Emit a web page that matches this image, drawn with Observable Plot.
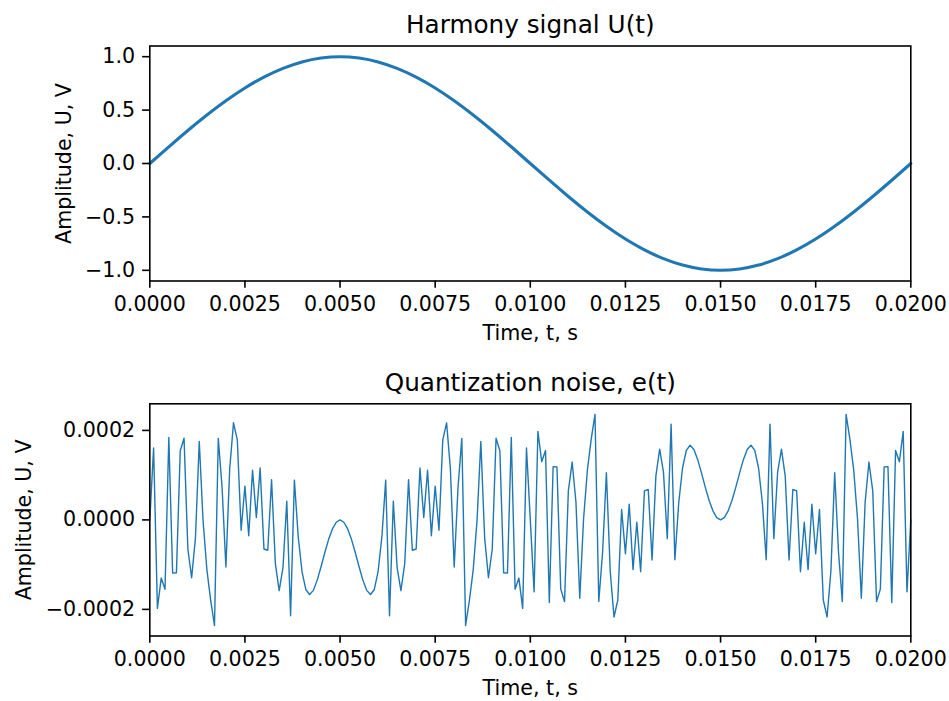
<!DOCTYPE html>
<html><head><meta charset="utf-8">
<script src="https://cdn.jsdelivr.net/npm/d3@7"></script>
<script src="https://cdn.jsdelivr.net/npm/@observablehq/plot@0.6"></script>
<style>
html,body{margin:0;padding:0;background:#fff;}
#chart{position:relative;width:949px;height:701px;overflow:hidden;background:#fff;}
#chart svg{position:absolute;left:0;overflow:visible;}
</style></head><body><div id="chart"></div>
<script>
// ---- data ----
const signalStep = 0.0005; // s between signal samples
const signalU = [
  0, 0.156434, 0.309017, 0.453990, 0.587785, 0.707107, 0.809017, 0.891007, 0.951057, 0.987688,
  1.0, 0.987688, 0.951057, 0.891007, 0.809017, 0.707107, 0.587785, 0.453990, 0.309017, 0.156434,
  0, -0.156434, -0.309017, -0.453990, -0.587785, -0.707107, -0.809017, -0.891007, -0.951057, -0.987688,
  -1.0, -0.987688, -0.951057, -0.891007, -0.809017, -0.707107, -0.587785, -0.453990, -0.309017, -0.156434,
  0
];
const noiseStep = 0.0001; // s between noise samples
const noiseE = [
  0, 0.0001608, -0.0001978, -0.0001300, -0.0001550, 0.0001845, -0.0001187, -0.0001185, 0.0001547, 0.0001825,
  -0.0000650, -0.0001293, -0.0000395, 0.0001752, -0.0000020, -0.0001111, -0.0001799, -0.0002359, 0.0001823, 0.0000717,
  -0.0001054, 0.0001141, 0.0002170, 0.0001790, -0.0000232, 0.0000755, -0.0000353, 0.0001111, 0.0000054, 0.0001160,
  -0.0000650, -0.0000679, 0.0000896, -0.0000978, -0.0001582, -0.0001068, 0.0000419, -0.0002141, 0.0000890, -0.0000372,
  -0.0001154, -0.0001555, -0.0001668, -0.0001575, -0.0001346, -0.0001046, -0.0000728, -0.0000435, -0.0000202, -0.0000052,
  0,
  -0.0000052, -0.0000202, -0.0000435, -0.0000728, -0.0001046, -0.0001346, -0.0001575, -0.0001668, -0.0001555, -0.0001154,
  -0.0000372, 0.0000890, -0.0002141, 0.0000419, -0.0001068, -0.0001582, -0.0000978, 0.0000896, -0.0000679, -0.0000650,
  0.0001160, 0.0000054, 0.0001111, -0.0000353, 0.0000755, -0.0000232, 0.0001790, 0.0002170, 0.0001141, -0.0001054,
  0.0000717, 0.0001823, -0.0002359, -0.0001799, -0.0001111, -0.0000020, 0.0001752, -0.0000395, -0.0001293, -0.0000650,
  0.0001825, 0.0001547, -0.0001185, -0.0001187, 0.0001845, -0.0001550, -0.0001300, -0.0001978, 0.0001608, 0,
  -0.0001608, 0.0001978, 0.0001300, 0.0001550, -0.0001845, 0.0001187, 0.0001185, -0.0001547, -0.0001825, 0.0000650,
  0.0001293, 0.0000395, -0.0001752, 0.0000020, 0.0001111, 0.0001799, 0.0002359, -0.0001823, -0.0000717, 0.0001054,
  -0.0001141, -0.0002170, -0.0001790, 0.0000232, -0.0000755, 0.0000353, -0.0001111, -0.0000054, -0.0001160, 0.0000650,
  0.0000679, -0.0000896, 0.0000978, 0.0001582, 0.0001068, -0.0000419, 0.0002141, -0.0000890, 0.0000372, 0.0001154,
  0.0001555, 0.0001668, 0.0001575, 0.0001346, 0.0001046, 0.0000728, 0.0000435, 0.0000202, 0.0000052, 0,
  0.0000052, 0.0000202, 0.0000435, 0.0000728, 0.0001046, 0.0001346, 0.0001575, 0.0001668, 0.0001555, 0.0001154,
  0.0000372, -0.0000890, 0.0002141, -0.0000419, 0.0001068, 0.0001582, 0.0000978, -0.0000896, 0.0000679, 0.0000650,
  -0.0001160, -0.0000054, -0.0001111, 0.0000353, -0.0000755, 0.0000232, -0.0001790, -0.0002170, -0.0001141, 0.0001054,
  -0.0000717, -0.0001823, 0.0002359, 0.0001799, 0.0001111, 0.0000020, -0.0001752, 0.0000395, 0.0001293, 0.0000650,
  -0.0001825, -0.0001547, 0.0001185, 0.0001187, -0.0001845, 0.0001550, 0.0001300, 0.0001978, -0.0001608, 0
];
const xTicks = [0, 0.0025, 0.005, 0.0075, 0.01, 0.0125, 0.015, 0.0175, 0.02];
const topYTicks = [-1, -0.5, 0, 0.5, 1];
const bottomYTicks = [-0.0002, 0, 0.0002];
const titles = ["Harmony signal U(t)", "Quantization noise, e(t)"];
const timeLabel = "Time, t, s";
const ampLabel = "Amplitude, U, V";

// ---- rendering ----
const FONT = "'DejaVu Sans', sans-serif";
const FS = 20.6, TFS = 24.7;
const BLUE = "#1f77b4";
const ML = 149.3, MR = 38.7;

function panel({data, yTicks, yFmt, title, lineWidth, height, mTop, mBottom, yLabelX, curve}) {
  const ext = d3.extent(data, d => d.v);
  const pad = (ext[1] - ext[0]) * 0.05;
  return Plot.plot({
    width: 949, height,
    marginTop: mTop, marginBottom: mBottom, marginLeft: ML, marginRight: MR,
    style: {fontFamily: FONT, fontSize: FS + "px", background: "white", color: "black", overflow: "visible"},
    x: {domain: [0, 0.02]},
    y: {domain: [ext[0] - pad, ext[1] + pad]},
    marks: [
      Plot.line(data, {x: "t", y: "v", stroke: BLUE, strokeWidth: lineWidth, curve}),
      Plot.axisX({ticks: xTicks, tickFormat: d3.format(".4f"), tickSize: 7.2, tickPadding: 8.3,
                  strokeWidth: 1.6, label: null, fontSize: FS}),
      Plot.axisY({ticks: yTicks, tickFormat: yFmt, tickSize: 7.2, tickPadding: 7.5,
                  strokeWidth: 1.6, label: null, fontSize: FS}),
      Plot.text([timeLabel], {text: d => d, frameAnchor: "bottom", dy: 59, lineAnchor: "bottom",
                              textAnchor: "middle", fontSize: FS}),
      Plot.text([ampLabel], {text: d => d, frameAnchor: "left", dx: yLabelX - ML, rotate: -90,
                             textAnchor: "middle", lineAnchor: "bottom", fontSize: FS}),
      Plot.text([title], {text: d => d, frameAnchor: "top", dy: -13, lineAnchor: "bottom",
                          textAnchor: "middle", fontSize: TFS}),
      Plot.frame({stroke: "black", strokeWidth: 1.6})
    ]
  });
}

const signalData = signalU.map((v, i) => ({t: i * signalStep, v}));
const noiseData = noiseE.map((v, i) => ({t: i * noiseStep, v}));

const topPanel = panel({
  data: signalData, yTicks: topYTicks, yFmt: d3.format(".1f"), title: titles[0],
  lineWidth: 3.1, height: 355, mTop: 45.5, mBottom: 74.5, yLabelX: 70, curve: "natural"
});
topPanel.style.top = "0px";

const bottomPanel = panel({
  data: noiseData, yTicks: bottomYTicks, yFmt: d3.format(".4f"), title: titles[1],
  lineWidth: 1.4, height: 346, mTop: 48.3, mBottom: 65.5, yLabelX: 30, curve: "linear"
});
bottomPanel.style.top = "355px";

const chartEl = document.getElementById("chart");
chartEl.appendChild(topPanel);
chartEl.appendChild(bottomPanel);
</script></body></html>
